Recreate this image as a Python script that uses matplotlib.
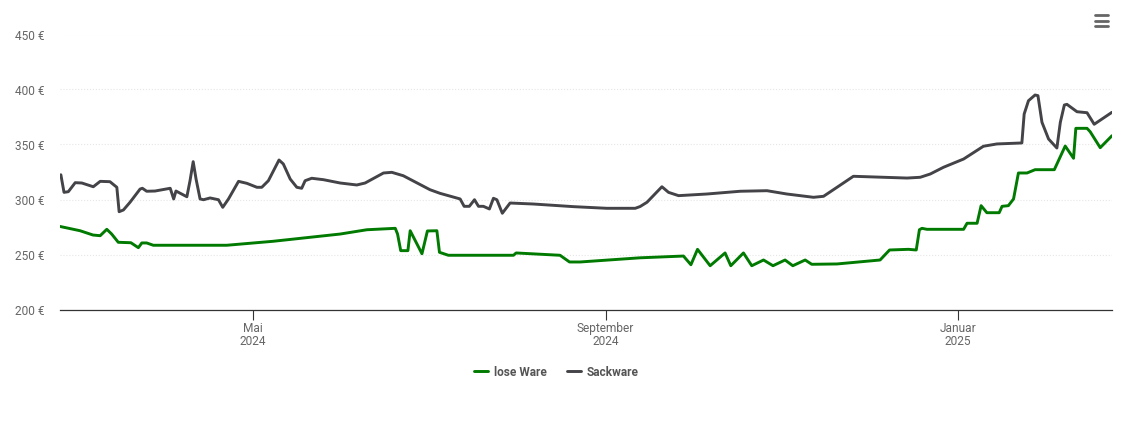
#!/usr/bin/env python3
import matplotlib
matplotlib.use("Agg")
import matplotlib.pyplot as plt

# Price history, days counted from 1 May 2024, prices in EUR
lose_days = [-67.1, -60.1, -55.6, -53.1, -50.8, -49.1, -46.8, -42.4, -39.8, -38.6, -36.9, -34.6,
             -9, 7.1, 30.5, 39.8, 49.7, 50.5, 51.6, 54.1, 54.9, 59, 60.9, 64.2, 65.1, 68.2,
             90.9, 91.8, 107.1, 110.4, 114.1, 135, 150.1, 152.7, 155, 159.4, 164.6, 166.6, 171,
             173.9, 178, 181.3, 185.5, 188.2, 192.5, 194.8, 203.6, 218.6, 221.9, 228.5, 231.2,
             232.3, 233.2, 234.9, 247.7, 248.9, 252.4, 253.8, 255.8, 260.1, 261.1, 263.3, 265.1,
             266.8, 269.8, 272.6, 279.3, 283.1, 286, 286.8, 290.7, 291.8, 295.3, 299.4]
lose_prices = [275.5, 271.6, 267.7, 267.1, 272.9, 268.6, 261.1, 260.7, 256.2, 260.5, 260.5, 258.4,
               258.4, 262, 268.6, 272.5, 273.8, 268.6, 253.5, 253.5, 271.6, 250.7, 271.4, 271.6, 252, 249.3,
               249.3, 251.4, 249.3, 243.2, 243.2, 247, 248.6, 240.7, 254.7, 239.8, 251.4, 239.8, 251.4,
               239.8, 245, 239.8, 245, 239.8, 245, 241.1, 241.4, 245, 254.1, 254.7, 254.1,
               272.5, 273.8, 272.9, 272.9, 278.4, 278.4, 294.4, 288, 288, 293.8, 294.4, 300.5,
               324.1, 324.1, 327.1, 327.1, 348.6, 337.5, 364.7, 364.7, 361.6, 347.1, 358]

sack_days = [-66.8, -65.7, -64.2, -61.8, -59.5, -55.5, -53.1, -49.7, -47.3, -46.5, -45, -42.7,
             -39.2, -38.4, -36.9, -34, -28.7, -27.5, -26.7, -22.9, -21.8, -20.7, -19.7, -18.3,
             -17.1, -14.8, -11.9, -10.4, -8.4, -4.9, -2, 1.5, 3.2, 5.5, 9.2, 10.7, 13.1, 15.4,
             17.1, 18.3, 20.6, 24.7, 30.5, 36.3, 39.2, 45.6, 48.5, 52.5, 61.8, 65.3, 72.3, 73.7,
             75.5, 77.3, 78.7, 80.4, 82.5, 83.9, 85.1, 87, 89.7, 97.8, 111.8, 123.4, 133.3, 135,
             137.4, 142.6, 144.9, 148.4, 158.3, 169.9, 179.2, 186.1, 195.4, 198.9, 203.6, 209.3,
             228, 232.6, 236.1, 240.7, 247.7, 254.6, 259.3, 268, 268.8, 270.3, 272.6, 273.6, 275,
             277.3, 280.2, 281.4, 282.8, 283.7, 287.2, 290.7, 293.2, 299.4]
sack_prices = [322.5, 306.5, 307.1, 315.3, 315, 311.6, 316.5, 316.2, 311.1, 288.9, 290.5, 297.5,
               309.5, 310.2, 307.5, 307.7, 310.2, 300.5, 307.7, 302.5, 317.1, 334.4, 318.6, 300.5,
               299.8, 301.4, 299.8, 292.9, 300.5, 316.5, 314.7, 311.1, 311.1, 317.1, 335.9, 332.3, 318.6, 311.1,
               310.2, 317.1, 319.3, 318, 315, 313.2, 315, 324.1, 324.7, 321.6, 308.9, 305.6, 300.5, 293.8,
               293.8, 299.8, 293.8, 293.8, 291.4, 301.1, 299.8, 287.5, 296.8, 295.9, 293.5, 292, 292, 293.6,
               297.5, 311.6, 306.5, 303.5, 305, 307.5, 308, 305, 302, 302.9, 311.1, 321.1,
               319.5, 320.2, 323.2, 329.3, 336.8, 348.4, 350.5, 351.4, 377.7, 389.8, 395, 394.4, 370.2,
               355, 346.8, 370.2, 385.9, 386.5, 379.8, 378.9, 368.4, 379.3]

y_ticks = [200, 250, 300, 350, 400, 450]
month_ticks = [0, 123, 245.6]
month_labels = ['Mai\n2024', 'September\n2024', 'Januar\n2025']

plt.rcParams.update({
    'font.family': 'Roboto',
    'font.size': 8.6,
    'lines.linewidth': 2.1,
    'lines.solid_capstyle': 'round',
    'lines.solid_joinstyle': 'round',
    'figure.dpi': 100
})


def plot_prices():
    """Pellet prices for both delivery types"""
    fig = plt.figure(figsize=(11.22, 4.27))
    plt.axes([60 / 1122, 1 - 310.5 / 427, 1052 / 1122, 275 / 427])

    plt.plot(lose_days, lose_prices, color='#007a00', label='lose Ware', zorder=3)
    plt.plot(sack_days, sack_prices, color='#434348', label='Sackware', zorder=3)

    plt.xlim(-67.1, 299.4)
    plt.ylim(200, 450)
    plt.yticks(y_ticks, [f'{v} €' for v in y_ticks], color='#666666')
    plt.xticks(month_ticks, month_labels, color='#666666', linespacing=1.08)
    plt.tick_params(axis='y', length=0, pad=11)
    plt.tick_params(axis='x', length=7, width=0.8, color='#333333', pad=1)
    plt.grid(True, axis='y', linestyle=':', color='#e6e6e6', linewidth=0.8)

    ax = plt.gca()
    for side in ['top', 'left', 'right']:
        ax.spines[side].set_visible(False)
    ax.spines['bottom'].set_color('#333333')
    ax.spines['bottom'].set_linewidth(0.9)
    ax.spines['bottom'].set_zorder(4)

    # Menu button in the top right corner
    for y_px in [16, 21.5, 26.5]:
        plt.plot([1095 / 1122, 1108 / 1122], [1 - y_px / 427, 1 - y_px / 427], color='#666666',
                 linewidth=2.0, transform=fig.transFigure, clip_on=False)

    plt.legend(loc='center', bbox_to_anchor=(556.5 / 1122, 1 - 373 / 427), bbox_transform=fig.transFigure,
               ncol=2, frameon=False, handlelength=1.15, handletextpad=0.5, columnspacing=1.75,
               labelcolor='#555555', prop={'family': 'Roboto', 'weight': 'bold', 'size': 8.6})
    plt.savefig("out.png", dpi=100)


if __name__ == "__main__":
    plot_prices()
